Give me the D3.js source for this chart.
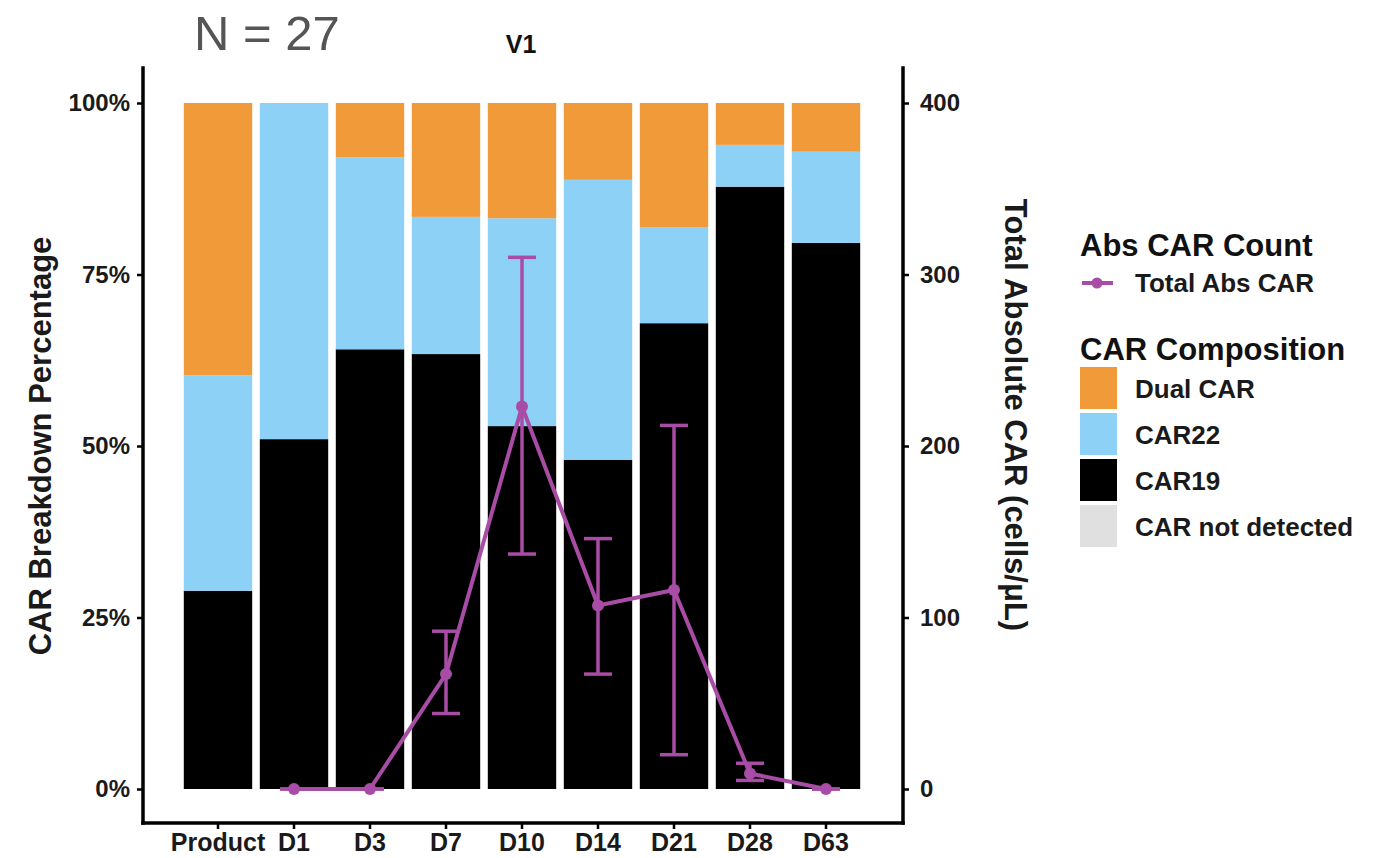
<!DOCTYPE html>
<html>
<head>
<meta charset="utf-8">
<script src="https://cdn.jsdelivr.net/npm/d3@7"></script>
<style>
  html, body { margin: 0; padding: 0; background: #fff; }
  svg { display: block; font-family: "Liberation Sans", Arial, sans-serif; }
</style>
</head>
<body>
<svg id="chart" width="1379" height="858"></svg>
<script>
// Timepoints along the x axis
const timepoints = ["Product", "D1", "D3", "D7", "D10", "D14", "D21", "D28", "D63"];

// CAR composition (% of CAR+ cells) per timepoint
const car19Pct    = [28.9, 51.0, 64.1, 63.4, 52.9, 48.0, 67.9, 87.8, 79.6];
const car22Pct    = [31.4, 49.0, 28.0, 20.0, 30.3, 40.8, 14.0,  6.1, 13.3];
const dualCarPct  = [39.7,  0.0,  7.9, 16.6, 16.8, 11.2, 18.1,  6.1,  7.1];
const notDetPct   = [ 0,    0,    0,    0,    0,    0,    0,    0,    0  ];

// Total absolute CAR count (cells/µL), mean with error bar limits
const absTimepoints = ["D1", "D3", "D7", "D10", "D14", "D21", "D28", "D63"];
const absMean  = [0, 0, 67, 223, 107, 116,  9, 0];
const absLower = [0, 0, 44, 137,  67,  20,  5, 0];
const absUpper = [0, 0, 92, 310, 146, 212, 15, 0];

const leftTicks  = [0, 25, 50, 75, 100];
const rightTicks = [0, 100, 200, 300, 400];

const compositionKeys   = ["CAR not detected", "CAR19", "CAR22", "Dual CAR"];
const compositionColors = ["#e0e0e0", "#000000", "#8dd1f7", "#f09a3a"];
const lineColor = "#a84ca5";

const svg = d3.select("#chart");
const FONT = "'Liberation Sans', Arial, sans-serif";

// Panel geometry
const panel = { left: 143, right: 903, top: 68, bottom: 823 };

const x = d3.scaleBand().domain(timepoints).range([180, 864]).paddingInner(0.1).paddingOuter(0.05);
const yPct = d3.scaleLinear().domain([0, 100]).range([789, 103]);
const yAbs = d3.scaleLinear().domain([0, 400]).range([789, 103]);

const color = d3.scaleOrdinal().domain(compositionKeys).range(compositionColors);

// Stacked composition bars
const rows = timepoints.map((t, i) => ({
  t,
  "CAR not detected": notDetPct[i],
  "CAR19": car19Pct[i],
  "CAR22": car22Pct[i],
  "Dual CAR": dualCarPct[i]
}));
const stack = d3.stack().keys(["CAR19", "CAR22", "Dual CAR", "CAR not detected"]);
const series = stack(rows);

svg.append("g").selectAll("g")
  .data(series)
  .join("g")
  .attr("fill", d => color(d.key))
  .selectAll("rect")
  .data(d => d)
  .join("rect")
  .attr("x", d => x(d.data.t))
  .attr("width", x.bandwidth())
  .attr("y", d => yPct(Math.min(100, d[1])))
  .attr("height", d => Math.max(0, yPct(d[0]) - yPct(Math.min(100, d[1]))));

// Absolute count line with error bars
const absData = absTimepoints.map((t, i) => ({
  t, cx: x(t) + x.bandwidth() / 2, m: absMean[i], lo: absLower[i], hi: absUpper[i]
}));
const capW = 28;
const eb = svg.append("g").attr("stroke", lineColor).attr("stroke-width", 3.5).attr("fill", "none");
eb.selectAll("line.v").data(absData).join("line").attr("class", "v")
  .attr("x1", d => d.cx).attr("x2", d => d.cx)
  .attr("y1", d => yAbs(d.lo)).attr("y2", d => yAbs(d.hi));
eb.selectAll("line.top").data(absData).join("line").attr("class", "top")
  .attr("x1", d => d.cx - capW / 2).attr("x2", d => d.cx + capW / 2)
  .attr("y1", d => yAbs(d.hi)).attr("y2", d => yAbs(d.hi));
eb.selectAll("line.bot").data(absData).join("line").attr("class", "bot")
  .attr("x1", d => d.cx - capW / 2).attr("x2", d => d.cx + capW / 2)
  .attr("y1", d => yAbs(d.lo)).attr("y2", d => yAbs(d.lo));

svg.append("path")
  .datum(absData)
  .attr("fill", "none")
  .attr("stroke", lineColor)
  .attr("stroke-width", 4)
  .attr("stroke-linejoin", "round")
  .attr("d", d3.line().x(d => d.cx).y(d => yAbs(d.m)));

svg.append("g").selectAll("circle").data(absData).join("circle")
  .attr("cx", d => d.cx).attr("cy", d => yAbs(d.m)).attr("r", 6)
  .attr("fill", lineColor);

// Axes
const axisStyle = size => g => {
  g.select(".domain").remove();
  g.selectAll(".tick line").attr("stroke", "#000").attr("stroke-width", 2.5);
  g.selectAll(".tick text").attr("fill", "#1a1a1a").attr("font-size", size).attr("font-weight", "bold")
    .attr("font-family", FONT);
};

svg.append("g")
  .attr("transform", `translate(${panel.left},0)`)
  .call(d3.axisLeft(yPct).tickValues(leftTicks).tickFormat(d => d + "%").tickSize(6).tickPadding(7))
  .call(axisStyle(24));

svg.append("g")
  .attr("transform", `translate(${panel.right},0)`)
  .call(d3.axisRight(yAbs).tickValues(rightTicks).tickSize(6).tickPadding(11))
  .call(axisStyle(24));

svg.append("g")
  .attr("transform", `translate(0,${panel.bottom})`)
  .call(d3.axisBottom(x).tickSize(6).tickPadding(6))
  .call(axisStyle(25))
  .selectAll(".tick text").attr("dy", "0.64em");

// Axis lines
const frame = svg.append("g").attr("stroke", "#000").attr("stroke-width", 3.5).attr("stroke-linecap", "square");
frame.append("line").attr("x1", panel.left).attr("x2", panel.left).attr("y1", panel.top).attr("y2", panel.bottom);
frame.append("line").attr("x1", panel.right).attr("x2", panel.right).attr("y1", panel.top).attr("y2", panel.bottom);
frame.append("line").attr("x1", panel.left).attr("x2", panel.right).attr("y1", panel.bottom).attr("y2", panel.bottom);

// Titles
svg.append("text").attr("x", 194).attr("y", 50)
  .attr("font-size", 49).attr("fill", "#555").attr("font-family", FONT)
  .text("N = 27");

svg.append("text").attr("x", 521).attr("y", 53).attr("text-anchor", "middle")
  .attr("font-size", 25).attr("font-weight", "bold").attr("fill", "#111")
  .text("V1");

svg.append("text")
  .attr("transform", "translate(51,446) rotate(-90)")
  .attr("text-anchor", "middle").attr("font-size", 31).attr("font-weight", "bold").attr("fill", "#1a1a1a")
  .text("CAR Breakdown Percentage");

svg.append("text")
  .attr("transform", "translate(1005,415) rotate(90)")
  .attr("text-anchor", "middle").attr("font-size", 31).attr("font-weight", "bold").attr("fill", "#1a1a1a")
  .text("Total Absolute CAR (cells/μL)");

// Legend
const lg = svg.append("g").attr("font-family", FONT);
lg.append("text").attr("x", 1080).attr("y", 256).attr("font-size", 31).attr("font-weight", "bold").attr("fill", "#111")
  .text("Abs CAR Count");
lg.append("line").attr("x1", 1082).attr("x2", 1113).attr("y1", 283).attr("y2", 283)
  .attr("stroke", lineColor).attr("stroke-width", 4);
lg.append("circle").attr("cx", 1097).attr("cy", 283).attr("r", 5.5).attr("fill", lineColor);
lg.append("text").attr("x", 1135).attr("y", 292).attr("font-size", 26).attr("font-weight", "bold").attr("fill", "#1a1a1a")
  .text("Total Abs CAR");

lg.append("text").attr("x", 1080).attr("y", 360).attr("font-size", 31).attr("font-weight", "bold").attr("fill", "#111")
  .text("CAR Composition");

const legendKeys = ["Dual CAR", "CAR22", "CAR19", "CAR not detected"];
const li = lg.selectAll("g.item").data(legendKeys).join("g").attr("class", "item")
  .attr("transform", (d, i) => `translate(1080,${367 + i * 46})`);
li.append("rect").attr("width", 37).attr("height", 42).attr("fill", d => color(d));
li.append("text").attr("x", 55).attr("y", 31).attr("font-size", 26).attr("font-weight", "bold").attr("fill", "#1a1a1a")
  .text(d => d);
</script>
</body>
</html>
